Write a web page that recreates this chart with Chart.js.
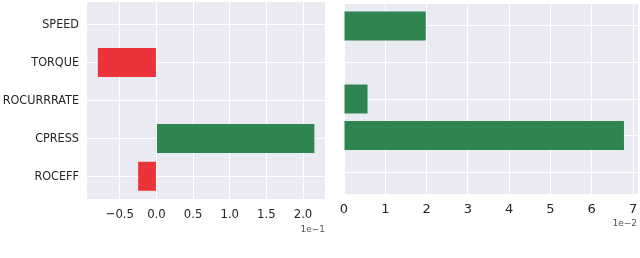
<!DOCTYPE html>
<html>
<head>
<meta charset="utf-8">
<script src="https://cdn.jsdelivr.net/npm/chart.js@4.4.1/dist/chart.umd.min.js"></script>
<style>
    html, body { margin: 0; padding: 0; background: #fff; }
    #wrap { position: relative; width: 640px; height: 258px; overflow: hidden; }
    #leftChart { position: absolute; left: 0; top: 0; }
    #rightChart { position: absolute; left: 330px; top: 0; }
</style>
</head>
<body>
<div id="wrap">
    <canvas id="leftChart" width="330" height="258"></canvas>
    <canvas id="rightChart" width="310" height="258"></canvas>
</div>
<script>
// Data for charts
const features = ["SPEED", "TORQUE", "ROCURRRATE", "CPRESS", "ROCEFF"];

// left panel, values in units of 1e-1
const leftValues = [0, -0.8, 0, 2.155, -0.25];
const leftTicks = [-0.5, 0, 0.5, 1.0, 1.5, 2.0];

// right panel, values in units of 1e-2
const rightValues = [1.98, 0, 0.57, 6.78, 0];
const rightTicks = [0, 1, 2, 3, 4, 5, 6, 7];

const RED = "#ED333A";
const GREEN = "#2E854F";
const PANEL_BG = "#EAEAF2";
const TEXT = "#262626";
const NARROW = "'DejaVu Sans Condensed', 'Liberation Sans Narrow', 'DejaVu Sans'";

// seaborn-like grey panel + the "1e-x" offset label
const panelPlugin = {
    id: "panel",
    beforeDraw(chart) {
        const a = chart.chartArea;
        const ctx = chart.ctx;
        ctx.save();
        ctx.fillStyle = PANEL_BG;
        ctx.fillRect(a.left, a.top, a.right - a.left, a.bottom - a.top);
        ctx.restore();
    },
    afterDraw(chart, args, opts) {
        const a = chart.chartArea;
        const ctx = chart.ctx;
        ctx.save();
        ctx.font = "9px 'DejaVu Sans'";
        ctx.fillStyle = "#555";
        ctx.textAlign = "right";
        ctx.textBaseline = "middle";
        ctx.fillText(opts.text, a.right + opts.dx, a.bottom + opts.dy);
        ctx.restore();
    },
};

function makeChart(id, values, ticks, cfg) {
    const ctx = document.getElementById(id).getContext("2d");
    return new Chart(ctx, {
        type: "bar",
        data: {
            datasets: [
                {
                    data: features.map((f, i) => ({ x: values[i] === 0 ? null : values[i], y: i })),
                    backgroundColor: (c) => (c.raw && c.raw.x < 0 ? RED : GREEN),
                    borderWidth: 0,
                    inflateAmount: 0,
                    barThickness: 29,
                },
            ],
        },
        plugins: [panelPlugin],
        options: {
            indexAxis: "y",
            responsive: false,
            animation: false,
            devicePixelRatio: 1,
            layout: { padding: cfg.padding },
            plugins: {
                legend: { display: false },
                tooltip: { enabled: false },
                panel: cfg.offsetText,
            },
            scales: {
                x: {
                    type: "linear",
                    min: cfg.xMin,
                    max: cfg.xMax,
                    afterBuildTicks: (s) => {
                        s.ticks = ticks.map((v) => ({ value: v }));
                    },
                    afterFit: (s) => {
                        s.height = cfg.xHeight;
                        s.paddingLeft = 0;
                        s.paddingRight = 0;
                    },
                    grid: { color: "#fff", lineWidth: 1, drawTicks: false },
                    border: { display: false },
                    ticks: {
                        autoSkip: false,
                        maxRotation: 0,
                        padding: 8,
                        color: TEXT,
                        font: { family: cfg.xFamily, size: 13 },
                        callback: cfg.fmt,
                    },
                },
                y: {
                    type: "linear",
                    reverse: true,
                    offset: false,
                    min: -0.6,
                    max: 4.6,
                    afterBuildTicks: (s) => {
                        s.ticks = features.map((f, i) => ({ value: i }));
                    },
                    afterFit: (s) => {
                        s.width = cfg.yWidth;
                        s.paddingTop = 0;
                        s.paddingBottom = 0;
                    },
                    grid: { color: "#fff", lineWidth: 1, drawTicks: false, offset: false },
                    border: { display: false },
                    ticks: {
                        display: cfg.showLabels,
                        padding: 8,
                        color: TEXT,
                        font: { family: NARROW, size: 12.5 },
                        callback: (v) => features[v],
                    },
                },
            },
        },
    });
}

// Left panel
makeChart("leftChart", leftValues, leftTicks, {
    padding: { left: 0, right: 5, top: 2, bottom: 0 },
    xMin: -0.948,
    xMax: 2.3,
    xHeight: 59,
    yWidth: 87,
    xFamily: NARROW,
    showLabels: true,
    fmt: (v) => (v < 0 ? "\u2212" + Math.abs(v).toFixed(1) : v.toFixed(1)),
    offsetText: { text: "1e\u22121", dx: 0, dy: 31 },
});

// Right panel
makeChart("rightChart", rightValues, rightTicks, {
    padding: { left: 14, right: 2, top: 4, bottom: 0 },
    xMin: 0,
    xMax: 7.12,
    xHeight: 64,
    yWidth: 0,
    xFamily: "DejaVu Sans",
    showLabels: false,
    fmt: (v) => String(v),
    offsetText: { text: "1e\u22122", dx: -1, dy: 30 },
});
</script>
</body>
</html>
